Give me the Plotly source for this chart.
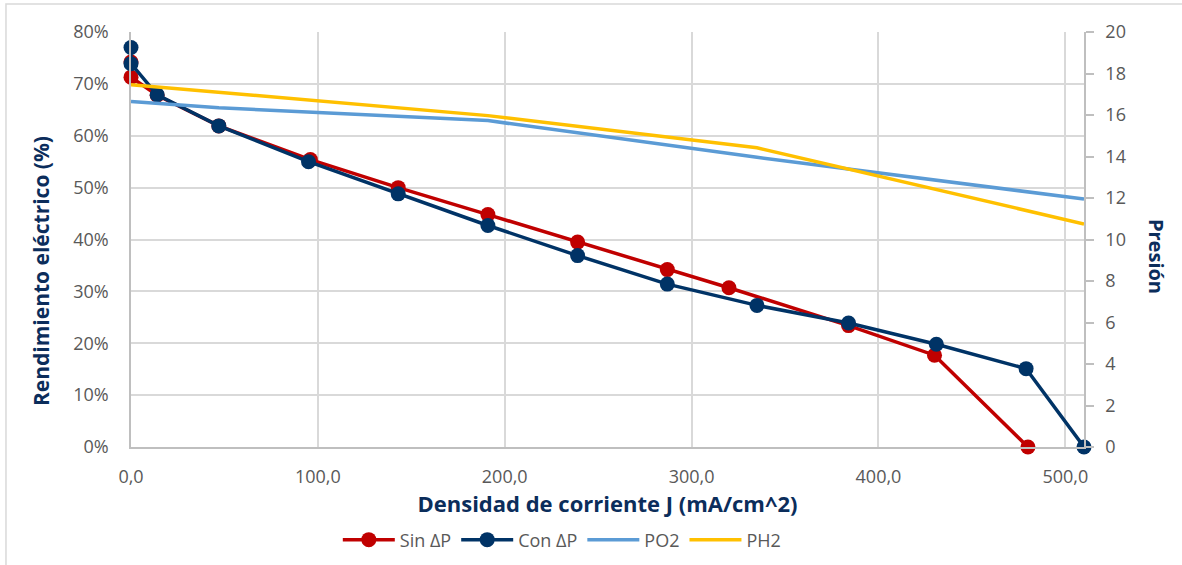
import plotly.graph_objects as go

# Current density J (mA/cm^2) and electrical efficiency (fraction)
j_sin = [0, 0, 14, 47, 96, 143, 191, 239, 287, 320, 384, 430, 480]
eff_sin = [0.742, 0.713, 0.678, 0.619, 0.554, 0.500, 0.448, 0.395, 0.342, 0.307, 0.234, 0.177, 0.0]

j_con = [0, 0, 14, 47, 95, 143, 191, 239, 287, 335, 384, 431, 479, 510]
eff_con = [0.770, 0.739, 0.679, 0.619, 0.550, 0.488, 0.427, 0.369, 0.314, 0.273, 0.239, 0.198, 0.151, 0.0]

# Partial pressures (right axis)
j_po2 = [0, 47, 191, 335, 510]
p_o2 = [16.65, 16.35, 15.73, 13.96, 11.95]

j_ph2 = [0, 191, 335, 510]
p_h2 = [17.46, 15.97, 14.42, 10.75]

x_ticks = [0, 100, 200, 300, 400, 500]

RED = "#C00000"
NAVY = "#003366"
LBLUE = "#5B9BD5"
YELLOW = "#FFC000"
TITLE = "#0B2D5B"
TICK = "#595959"
GRID = "#D9D9D9"
FONT = "Open Sans, sans-serif"

fig = go.Figure()
fig.add_trace(go.Scatter(x=j_sin, y=eff_sin, name="Sin ΔP", mode="lines+markers",
                         line=dict(color=RED, width=3.5),
                         marker=dict(color=RED, size=15), cliponaxis=False))
fig.add_trace(go.Scatter(x=j_con, y=eff_con, name="Con ΔP", mode="lines+markers",
                         line=dict(color=NAVY, width=3.5),
                         marker=dict(color=NAVY, size=15), cliponaxis=False))
fig.add_trace(go.Scatter(x=j_po2, y=p_o2, name="PO2", mode="lines", yaxis="y2",
                         line=dict(color=LBLUE, width=3.5)))
fig.add_trace(go.Scatter(x=j_ph2, y=p_h2, name="PH2", mode="lines", yaxis="y2",
                         line=dict(color=YELLOW, width=3.5)))

fig.update_layout(
    width=1182, height=565,
    margin=dict(l=131, r=98, t=32, b=118, autoexpand=False),
    paper_bgcolor="white", plot_bgcolor="white",
    separators=",.",
    font=dict(family=FONT, color=TICK, size=18),
    showlegend=True,
    legend=dict(orientation="h", x=0.217, xanchor="left", y=-0.224, yanchor="middle",
                font=dict(size=18, color=TICK), itemwidth=52,
                bgcolor="rgba(0,0,0,0)", traceorder="normal"),
    xaxis=dict(range=[0, 510], tickvals=x_ticks, tickformat=".1f",
               showgrid=True, gridcolor=GRID, gridwidth=1.5,
               showline=True, linecolor="#BFBFBF", linewidth=1.5,
               zeroline=False, ticks="", ticklabelstandoff=13,
               tickfont=dict(size=18), automargin=False,
               title=dict(text="<b>Densidad de corriente J (mA/cm^2)</b>",
                          font=dict(size=22, color=TITLE), standoff=1)),
    yaxis=dict(range=[0, 0.8], dtick=0.1, tickformat=".0%",
               showgrid=True, gridcolor=GRID, gridwidth=1.5,
               showline=True, linecolor="#BFBFBF", linewidth=1.5,
               zeroline=False, ticks="", ticklabelstandoff=17,
               tickfont=dict(size=18), automargin=False),
    yaxis2=dict(range=[0, 20], dtick=2, overlaying="y", side="right",
                showgrid=False, showline=True, linecolor="#BFBFBF", linewidth=1.5,
                zeroline=False, ticks="outside", ticklen=8, tickcolor="#BFBFBF",
                tickwidth=1.5, ticklabelstandoff=8, tickfont=dict(size=18),
                automargin=False),
)

# Left axis title
fig.add_annotation(text="<b>Rendimiento eléctrico (%)</b>", xref="paper", yref="paper",
                   x=-0.0944, y=0.424, textangle=-90, showarrow=False,
                   xanchor="center", yanchor="middle",
                   font=dict(size=21, color=TITLE, family=FONT))

# Right axis title reading top to bottom
fig.add_annotation(text="<b>Presión</b>", xref="paper", yref="paper",
                   x=1.0755, y=0.458, textangle=90, showarrow=False,
                   xanchor="center", yanchor="middle",
                   font=dict(size=20, color=TITLE, family=FONT))

# Chart area frame (runs past the right and bottom page edges)
fig.add_shape(type="rect", xref="paper", yref="paper",
              x0=-0.1312, x1=1.11, y0=-0.30, y1=1.0675,
              line=dict(color=GRID, width=1.5), layer="below")

fig.write_html("out.html")
